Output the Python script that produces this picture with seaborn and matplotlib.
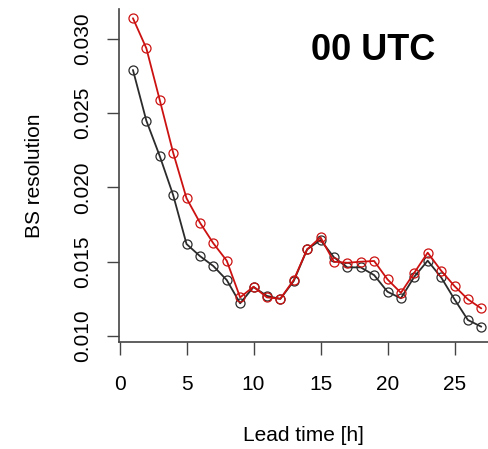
import numpy as np
import pandas as pd
import matplotlib
matplotlib.use("Agg")
import matplotlib.pyplot as plt
import seaborn as sns

lead_time = list(range(1, 28))
bs_black = [0.0279, 0.02449, 0.02211, 0.01949, 0.01619, 0.01538, 0.01471, 0.01377, 0.0122,
            0.0133, 0.0127, 0.0125, 0.0137, 0.01583, 0.01646, 0.0153, 0.01462, 0.01462,
            0.0141, 0.01298, 0.01254, 0.01399, 0.01507, 0.01395, 0.01247, 0.01108, 0.01063]
bs_red = [0.03138, 0.02936, 0.02588, 0.02234, 0.01927, 0.01763, 0.01624, 0.01507, 0.0126,
          0.01332, 0.0126, 0.01251, 0.01377, 0.01583, 0.01664, 0.0150, 0.01493, 0.0150,
          0.01505, 0.01381, 0.01291, 0.01426, 0.01561, 0.0144, 0.01336, 0.01247, 0.01186]
series_names = ["black", "red"]
title_text = "00 UTC"
x_label = "Lead time [h]"
y_label = "BS resolution"
x_ticks = [0, 5, 10, 15, 20, 25]
y_ticks = [0.010, 0.015, 0.020, 0.025, 0.030]

df = pd.DataFrame({
    "lead": lead_time * 2,
    "bs": bs_black + bs_red,
    "series": [series_names[0]] * len(lead_time) + [series_names[1]] * len(lead_time),
})

sns.set_style("white")
plt.rcParams["font.family"] = ["Liberation Sans", "DejaVu Sans"]
plt.rcParams["text.color"] = "black"
plt.rcParams["axes.labelcolor"] = "black"
plt.rcParams["xtick.color"] = "black"
plt.rcParams["ytick.color"] = "black"

W, H = 488, 449
fig = plt.figure(figsize=(W / 100, H / 100), dpi=100)
ax = fig.add_axes([119 / W, 1 - 342 / H, (488 - 119) / W, (342 - 9) / H])

palette = {"black": "#2b2b2b", "red": "#cc1111"}
sns.lineplot(data=df, x="lead", y="bs", hue="series", palette=palette, ax=ax,
             legend=False, linewidth=1.3, marker="o", markersize=6.5,
             markerfacecolor="none", markeredgewidth=0.9, alpha=1.0)
for line in ax.lines:
    c = line.get_color()
    line.set_markeredgecolor(matplotlib.colors.to_rgba(c, 0.65))

ax.set_xlim(-0.04, 27.5)
ax.set_ylim(0.0096, 0.0320)
ax.set_xticks(x_ticks)
ax.set_yticks(y_ticks)
ax.set_xticklabels([str(t) for t in x_ticks], fontsize=15)
ax.set_yticklabels([f"{t:.3f}" for t in y_ticks], fontsize=15, rotation=90, va="center")
ax.tick_params(axis="both", direction="out", length=9, width=1.0,
               left=True, bottom=True)
ax.tick_params(axis="x", pad=15, color="#444444")
ax.tick_params(axis="y", pad=10, color="#444444")
for s in ["top", "right"]:
    ax.spines[s].set_visible(False)
for s in ["left", "bottom"]:
    ax.spines[s].set_color("#444444")
    ax.spines[s].set_linewidth(1.2)

ax.set_xlabel(x_label, fontsize=15, labelpad=23)
ax.set_ylabel(y_label, fontsize=15, labelpad=21)
ax.text((373 - 119) / (488 - 119), 1 - (50 - 9) / (342 - 9),
        title_text, transform=ax.transAxes, fontsize=26, fontweight="bold",
        ha="center", va="center", color="black")

fig.savefig("out.png", dpi=100)
